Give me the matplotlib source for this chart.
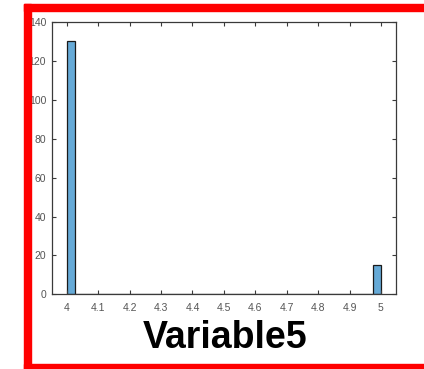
import numpy as np
import matplotlib.pyplot as plt
from matplotlib.patches import Rectangle

# histogram data (bin edges and counts)
bin_edges = np.linspace(4.0, 5.0, 41)
counts = [130] + [0] * 38 + [15]
x_ticks = [4, 4.1, 4.2, 4.3, 4.4, 4.5, 4.6, 4.7, 4.8, 4.9, 5]
x_labels = ['4', '4.1', '4.2', '4.3', '4.4', '4.5', '4.6', '4.7', '4.8', '4.9', '5']
y_ticks = [0, 20, 40, 60, 80, 100, 120, 140]
title = 'Variable5'

plt.rcParams['font.family'] = ['Liberation Sans', 'DejaVu Sans']

fig = plt.figure(figsize=(4.24, 3.69), dpi=100)
ax = fig.add_axes([0.122, 0.2024, 0.812, 0.738])

widths = np.diff(bin_edges)
ax.bar(bin_edges[:-1], counts, width=widths, align='edge',
       color='#66aad7', edgecolor='#1a1a1a', linewidth=0.9)

ax.set_xlim(3.952, 5.048)
ax.set_ylim(0, 140)
ax.set_xticks(x_ticks)
ax.set_xticklabels(x_labels)
ax.set_yticks(y_ticks)
ax.tick_params(direction='in', length=3, width=0.8, colors='#3a3a3a',
               labelsize=7.5, labelcolor='#555555', top=True, right=True)
ax.tick_params(axis='x', pad=6)
ax.tick_params(axis='y', pad=4)
for s in ax.spines.values():
    s.set_color('#3a3a3a')
    s.set_linewidth(0.9)

fig.text(0.53, 0.085, title, ha='center', va='center',
         fontsize=27, fontweight='bold', color='black')

# red frame around the figure
red = '#ff0000'
fig.patches.append(Rectangle((24 / 424, 1 - 11 / 369), 1, 7 / 369,
                             transform=fig.transFigure, color=red, zorder=5))
fig.patches.append(Rectangle((24 / 424, 0), 7 / 424, 1 - 4 / 369,
                             transform=fig.transFigure, color=red, zorder=5))
fig.patches.append(Rectangle((24 / 424, 0), 1, 5 / 369,
                             transform=fig.transFigure, color=red, zorder=5))

fig.savefig('out.png', dpi=100)
